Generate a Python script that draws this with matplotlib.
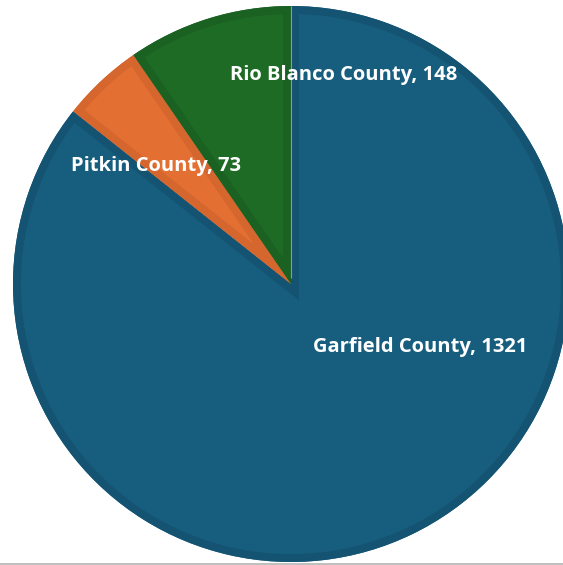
import matplotlib
matplotlib.use("Agg")
import matplotlib.pyplot as plt
import matplotlib.patches as mpatches
from matplotlib.lines import Line2D

# Data
categories = ["Garfield County", "Pitkin County", "Rio Blanco County"]
values = [1321, 73, 148]

# Style
fill_colors = ["#175E7E", "#E37032", "#1E6B25"]
edge_colors = ["#145472", "#D4662E", "#1B6122"]
label_pos = {"Garfield County": (0.466, -0.226),
             "Pitkin County": (-0.487, 0.423),
             "Rio Blanco County": (0.19, 0.753)}

W, H = 563, 565
dpi = 100
fig = plt.figure(figsize=(W / dpi, H / dpi), dpi=dpi)
cx, cy, r = 291, 284, 278
ax = fig.add_axes([(cx - r) / W, (H - cy - r) / H, 2 * r / W, 2 * r / H])

wedges, _ = ax.pie(values, colors=fill_colors, startangle=90, counterclock=False,
                   radius=1, center=(0, 0), frame=True,
                   wedgeprops=dict(linewidth=0))
ax.set_xlim(-1, 1)
ax.set_ylim(-1, 1)
ax.axis("off")

# inner darker border, clipped to each wedge
border_px = 8
for w, ec in zip(wedges, edge_colors):
    p = mpatches.Wedge(w.center, w.r, w.theta1, w.theta2, facecolor="none",
                       edgecolor=ec, linewidth=2 * border_px * 72 / dpi)
    ax.add_patch(p)
    p.set_clip_path(w)

# thin light separator at the top (between first and last slices)
ax.plot([0, 0], [0.02, 1], color="#7FA0A8", linewidth=0.8, solid_capstyle="butt")

for cat, v in zip(categories, values):
    x, y = label_pos[cat]
    ax.text(x, y, f"{cat}, {v}", color="white", fontsize=14.5, fontweight="bold",
            family=["Open Sans", "DejaVu Sans"], ha="center", va="center")

# bottom gray frame line
fig.add_artist(Line2D([0, 1], [1.0 / H, 1.0 / H], transform=fig.transFigure,
                      color="#C0C0C0", linewidth=2 * 72 / dpi))

fig.savefig("out.png", dpi=dpi)
